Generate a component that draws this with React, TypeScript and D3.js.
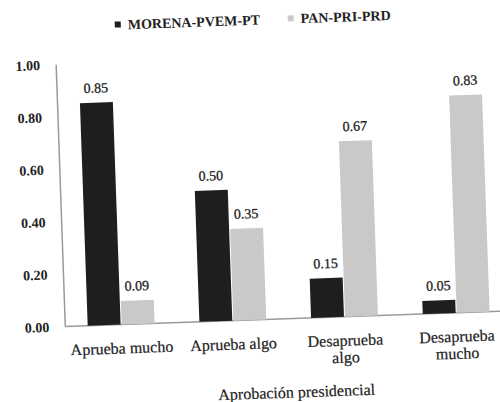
import * as d3 from "d3";
import {useRef, useEffect} from "react";

const categories = ["Aprueba mucho", "Aprueba algo", "Desaprueba algo", "Desaprueba mucho"];
const categoryLines = [["Aprueba mucho"], ["Aprueba algo"], ["Desaprueba", "algo"], ["Desaprueba", "mucho"]];
const seriesNames = ["MORENA-PVEM-PT", "PAN-PRI-PRD"];
const morena = [0.85, 0.50, 0.15, 0.05];
const panPriPrd = [0.09, 0.35, 0.67, 0.83];
const yTicks = [0, 0.2, 0.4, 0.6, 0.8, 1.0];
const colors = ["#1e1e1e", "#c9c9c9"];

export default function App() {
    const svgRef = useRef(null);
    const W = 500, H = 402;
    const font = "'Liberation Serif', serif";

    useEffect(() => {
        const root = d3.select(svgRef.current);
        root.selectAll("*").remove();
        root.append("rect").attr("width", W).attr("height", H).attr("fill", "#fff");

        // the scan is slightly tilted
        const svg = root.append("g").attr("transform", "rotate(-2, 250, 200)");

        const x = d3.scaleBand().domain(categories).range([61, 508]);
        const xs = d3.scaleBand().domain(seriesNames).range([0, x.bandwidth()]).paddingInner(0.03).paddingOuter(0.66);
        const y = d3.scaleLinear().domain([0, 1]).range([320, 58]);

        // axes
        svg.append("line").attr("x1", 61).attr("x2", 61).attr("y1", y(1)).attr("y2", y(0))
            .attr("stroke", "#9a9a9a").attr("stroke-width", 1.5);
        svg.append("line").attr("x1", 61).attr("x2", 508).attr("y1", y(0)).attr("y2", y(0))
            .attr("stroke", "#9a9a9a").attr("stroke-width", 1.5);

        svg.selectAll(".ytick").data(yTicks).join("text")
            .attr("x", 45).attr("y", d => y(d)).attr("dy", "0.35em")
            .attr("text-anchor", "end").attr("font-family", font).attr("font-weight", "bold")
            .attr("font-size", 14).attr("fill", "#222")
            .text(d => d3.format(".2f")(d));

        const series = [morena, panPriPrd];
        series.forEach((vals, si) => {
            const g = svg.append("g");
            g.selectAll("rect").data(vals).join("rect")
                .attr("x", (d, i) => (x(categories[i]) || 0) + (xs(seriesNames[si]) || 0))
                .attr("width", xs.bandwidth())
                .attr("y", d => y(d))
                .attr("height", d => y(0) - y(d))
                .attr("fill", colors[si]);
            g.selectAll("text").data(vals).join("text")
                .attr("x", (d, i) => (x(categories[i]) || 0) + (xs(seriesNames[si]) || 0) + xs.bandwidth() / 2)
                .attr("y", d => y(d) - 10)
                .attr("text-anchor", "middle").attr("font-family", font)
                .attr("font-size", 14).attr("fill", "#222")
                .attr("stroke", "#222").attr("stroke-width", 0.3)
                .text(d => d3.format(".2f")(d));
        });

        // category labels
        categoryLines.forEach((lines, i) => {
            const cx = (x(categories[i]) || 0) + x.bandwidth() / 2;
            const t = svg.append("text")
                .attr("x", cx)
                .attr("y", 349)
                .attr("text-anchor", "middle").attr("font-family", font)
                .attr("font-size", 16).attr("fill", "#222")
                .attr("stroke", "#222").attr("stroke-width", 0.2);
            lines.forEach((l, k) => {
                t.append("tspan").attr("x", cx)
                    .attr("dy", k === 0 ? 0 : 17).text(l);
            });
        });

        svg.append("text").attr("x", 290).attr("y", 399).attr("text-anchor", "middle")
            .attr("font-family", font).attr("font-size", 16).attr("fill", "#222")
            .attr("stroke", "#222").attr("stroke-width", 0.2)
            .text("Aprobación presidencial");

        // legend
        const legendX = [121, 294];
        seriesNames.forEach((name, i) => {
            svg.append("rect").attr("x", legendX[i]).attr("y", 17).attr("width", 6).attr("height", 6)
                .attr("fill", colors[i]);
            svg.append("text").attr("x", legendX[i] + 13).attr("y", 25)
                .attr("font-family", font).attr("font-weight", "bold").attr("font-size", 14)
                .attr("fill", "#222").text(name);
        });
    }, []);

    return (
        <svg ref={svgRef} width={W} height={H} style={{position: "absolute", left: 0, top: 0}} />
    );
}
